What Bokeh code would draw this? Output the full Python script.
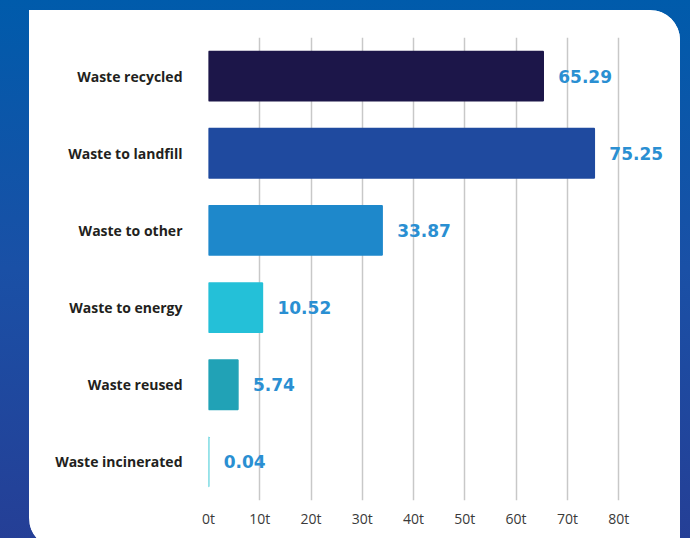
from bokeh.plotting import figure
from bokeh.models import (ColumnDataSource, FactorRange, Range1d, FixedTicker,
                          GlobalInlineStyleSheet)
from bokeh.core.properties import value
from bokeh.embed import file_html
from bokeh.resources import INLINE

categories = ["Waste recycled", "Waste to landfill", "Waste to other",
              "Waste to energy", "Waste reused", "Waste incinerated"]
values = [65.29, 75.25, 33.87, 10.52, 5.74, 0.04]
bar_colors = ["#1c1649", "#1f4a9f", "#1e88cb", "#24c0d8", "#21a2b6", "#3fc9d6"]
tick_values = [0, 10, 20, 30, 40, 50, 60, 70, 80]
tick_labels = ["0t", "10t", "20t", "30t", "40t", "50t", "60t", "70t", "80t"]

src = ColumnDataSource(dict(cat=categories, val=values, color=bar_colors,
                            label=[f"{v:.2f}" for v in values]))

p = figure(width=651, height=538,
           y_range=FactorRange(*reversed(categories)),
           x_range=Range1d(0, 90.5),
           output_backend="svg", toolbar_location=None,
           min_border_left=179, min_border_right=8,
           min_border_top=27, min_border_bottom=48)

p.background_fill_color = "white"
p.border_fill_color = "white"
p.outline_line_color = None

p.stylesheets = [GlobalInlineStyleSheet(css=(
    "html,body{background:linear-gradient(to bottom,#005bab 0%,#1a50a6 50%,#253f96 100%);"
    "min-height:100%;overflow:hidden;}"))]
p.styles = {"margin-left": "29px", "margin-top": "10px",
            "background-color": "white",
            "border-radius": "0px 30px 0px 30px", "overflow": "hidden"}

p.hbar(y="cat", left=0, right="val", height=0.64, fill_color="color",
       line_color="color", line_width=1.5, source=src)

p.text(x="val", y="cat", text="label", x_offset=15, text_baseline="middle",
       text_align="left", text_font=value("DejaVu Sans"), text_font_style="bold",
       text_font_size="17px", text_color="#2a8fd2", source=src)

ticker = FixedTicker(ticks=tick_values)
p.xaxis.ticker = ticker
p.xgrid.ticker = ticker
p.xaxis.major_label_overrides = {v: l for v, l in zip(tick_values, tick_labels)}
p.xgrid.grid_line_color = "#c8c8c8"
p.xgrid.grid_line_width = 1.5
p.ygrid.grid_line_color = None

p.xaxis.axis_line_color = None
p.xaxis.major_tick_line_color = None
p.xaxis.minor_tick_line_color = None
p.xaxis.major_label_standoff = 2
p.xaxis.major_label_text_font = "Open Sans"
p.xaxis.major_label_text_font_size = "14px"
p.xaxis.major_label_text_color = "#3a3a3a"

p.yaxis.axis_line_color = None
p.yaxis.major_tick_line_color = None
p.yaxis.minor_tick_line_color = None
p.yaxis.major_label_standoff = 20
p.yaxis.major_label_text_font = "Open Sans"
p.yaxis.major_label_text_font_style = "bold"
p.yaxis.major_label_text_font_size = "14px"
p.yaxis.major_label_text_color = "#231f20"

open("out.html", "w").write(file_html(p, INLINE))
